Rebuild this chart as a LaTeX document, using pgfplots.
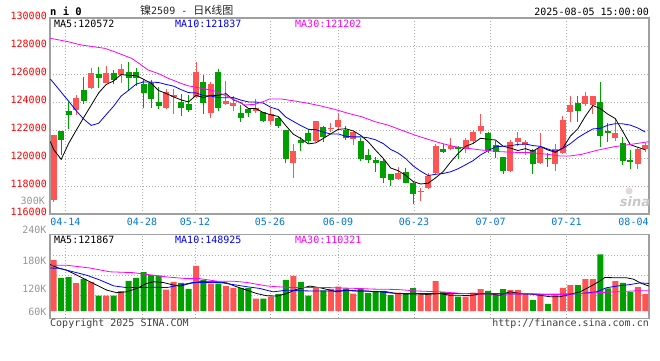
\documentclass[border=0pt]{standalone}
\usepackage{pgfplots}
\pgfplotsset{compat=1.18}
\usepackage{pgfplotstable}
\usepackage{fontspec}
\setmainfont{DejaVu Sans}
\setmonofont{DejaVu Sans Mono}
\newfontfamily\cjk{Noto Sans CJK SC}
\definecolor{cred}{RGB}{255,84,84}
\definecolor{cgreen}{RGB}{0,160,0}
\definecolor{cblue}{RGB}{0,0,255}
\definecolor{cmag}{RGB}{255,0,255}
\definecolor{cdate}{RGB}{0,120,215}
\definecolor{cgrid}{RGB}{175,175,175}
\definecolor{cframe}{RGB}{160,160,160}
\definecolor{cvol}{RGB}{150,150,150}

% red (up) candles: index, open, high, low, close, volume(K)
\pgfplotstableread{
i O H L C V
0 116970 121650 116850 121650 180
3 123410 124510 123080 124290 125.5
5 125030 126430 124950 126050 128.6
7 125390 126580 125340 126080 96
9 125930 126700 125340 126360 106.8
15 123560 124940 123510 124700 110
16 124410 124940 123130 124510 128.6
19 124360 126890 124300 126120 166
21 123240 125450 122830 125290 124
23 123880 125500 123790 124070 118.5
24 123710 124430 123380 123900 114.5
27 123380 124210 123190 123550 88.8
29 122640 123550 122360 123120 93.5
32 119620 121000 118590 120520 142.6
35 121210 122650 121170 122640 113.8
37 122070 122480 121880 122170 112
38 122240 123240 122000 122710 117
40 121330 121880 120930 121880 101
46 118500 119330 118430 118950 103
49 117550 117880 116950 117670 99
50 117830 118900 117760 118710 100
51 118950 121000 118830 120860 130
53 120640 121400 120570 120860 101
55 120640 121450 120330 121290 93.5
56 121210 122000 120980 121880 103
57 121930 123140 121710 122310 111.4
61 119100 121290 118980 121170 109
62 121170 121880 120880 121450 109
63 120930 121290 120210 121170 100
65 119620 121810 119570 120740 100
67 119550 121000 119100 120620 100
68 120330 123020 120260 122710 114.5
69 123310 124430 122600 123790 120.8
71 123830 124740 123740 124430 134.8
72 123790 124430 123120 124430 134.8
75 121450 122760 121240 121810 130
78 119550 120690 119190 120640 116
79 120620 121050 120450 120930 100
}\up

% green (down) candles
\pgfplotstableread{
i O H L C V
1 121940 121940 120200 121320 138
2 123370 123980 122080 123100 139.5
4 124860 125770 123840 124080 135.6
6 125980 126530 125030 125740 96
8 126050 126290 125290 125580 96
10 126120 126890 124790 125740 131
11 126120 126410 125170 125740 138
12 125290 125580 123560 124670 151
13 125340 125580 123560 124200 144
14 123980 125100 123510 123750 143
17 123980 124560 123030 123600 126
18 123890 124510 123270 123460 112
20 125450 125930 123140 123900 133
22 126170 126360 123380 123600 124
25 123210 123790 122600 122880 113.8
26 123500 123550 122950 123240 113.8
28 123290 123290 122600 122640 88.8
30 122880 122950 122170 122290 99.7
31 122000 122000 119620 119930 133
33 121290 121480 120500 121100 128.6
34 121810 122050 121050 121210 96
36 122240 122310 121120 121520 108.3
39 122000 122290 121290 121400 113
41 121240 121400 119790 119930 113
42 120210 120640 119670 119860 102
43 119860 120100 119020 119670 107
44 119790 119980 118190 118550 107
45 118860 118860 118020 118430 97.4
47 119020 119260 118190 118240 100
48 118240 118310 116690 117430 113.8
52 120620 121000 120330 120450 105
54 120790 120860 119930 120710 93.5
58 121810 121880 120330 120500 107
59 120930 121210 119980 120450 99
60 120100 120100 118830 119100 111.4
64 120570 120640 118860 119550 85.7
66 120020 120330 119380 119950 77
70 123950 124450 122600 123380 120.8
73 124000 125400 120810 121600 193
74 121950 122520 121170 121810 113
76 121100 121480 119500 119810 126
77 119860 120570 119210 119740 105
}\dn

\pgfplotstableread{
i m
-0.45 121170
0 120600
1 119900
2 121050
3 121980
4 122888
5 123768
6 124652
7 125248
8 125506
9 125962
10 125900
11 125900
12 125618
13 125342
14 124820
15 124612
16 124366
17 124152
18 124004
19 124478
20 124318
21 124474
22 124474
23 124596
24 124152
25 123948
26 123538
27 123528
28 123242
29 123086
30 122968
31 122306
32 121700
33 121392
34 121010
35 121080
36 121398
37 121728
38 122050
39 122088
40 121936
41 121618
42 121156
43 120548
44 119978
45 119288
46 119092
47 118768
48 118320
49 118144
50 118200
51 118582
52 119024
53 119710
54 120318
55 120834
56 121038
57 121410
58 121338
59 121286
60 120848
61 120706
62 120534
63 120668
64 120488
65 120816
66 120572
67 120406
68 120714
69 121562
70 122090
71 122986
72 123748
73 123526
74 123130
75 122816
76 121892
77 120954
78 120762
79 120586
}\mafive

\pgfplotstableread{
i m
-0.45 125640
0 125350
1 124700
2 124050
3 123380
4 122780
5 122330
6 122480
7 123100
8 123700
9 124425
10 124834
11 125276
12 125433
13 125424
14 125391
15 125256
16 125133
17 124885
18 124673
19 124649
20 124465
21 124420
22 124313
23 124300
24 124315
25 124133
26 124006
27 124001
28 123919
29 123619
30 123458
31 122922
32 122614
33 122317
34 122048
35 122024
36 121852
37 121714
38 121721
39 121549
40 121508
41 121508
42 121442
43 121299
44 121033
45 120612
46 120355
47 119962
48 119434
49 119061
50 118744
51 118837
52 118896
53 119015
54 119231
55 119517
56 119810
57 120217
58 120524
59 120802
60 120841
61 120872
62 120972
63 121003
64 120887
65 120832
66 120639
67 120470
68 120691
69 121025
70 121453
71 121779
72 122077
73 122120
74 122346
75 122453
76 122439
77 122351
78 122144
79 121858
}\maten

\pgfplotstableread{
i m
-0.45 128550
1.9 128310
3.7 128070
5.9 127905
6.8 127833
8.1 127595
10.4 127119
11.7 126643
12.6 126285
13.9 126047
15.3 125690
17.0 125333
17.9 125166
19.3 125023
21.5 124785
23.3 124380
24.6 124023
25.5 123785
26.8 123833
28.2 124071
28.8 124214
30.4 124214
32.2 124071
34.0 123904
35.7 123714
37.5 123476
39.5 123166
41.1 122952
42.9 122595
44.6 122357
46.4 122000
48.2 121642
50.0 121333
51.8 121047
53.6 120809
55.3 120690
57.1 120571
59.6 120452
61.6 120404
63.8 120380
66.0 120261
67.6 120142
68.9 120142
70.5 120261
72.7 120571
74.9 120809
77.1 120976
79.5 121166
}\mathirty

\pgfplotstableread{
i v
-0.5 169
0.6 161
1.7 156
3.1 144
4.4 132.5
5.7 121
7.1 109
8.4 103
9.7 105
11.1 113
12.4 124.7
13.3 128.6
14.6 127
16.0 121
16.9 118.5
18.2 124.7
19.5 128.6
21.8 128.6
23.1 126
24.4 117
25.8 109
27.1 101
28.4 96
29.8 95
31.1 101
32.4 110.6
34.2 118.5
35.6 114.5
36.9 109
37.8 105
39.1 109
40.5 107
41.8 107
43.1 105
44.5 105
45.8 101
47.1 100
48.5 100
49.8 99
51.6 101
52.9 97
54.3 97
55.6 96
56.9 100
58.3 100
59.6 97
60.9 105
62.3 101
63.6 100
64.9 97
66.3 93.5
67.6 93.5
68.9 99
70.3 105
71.6 117
72.9 130
73.6 138.7
75.2 138
76.5 138
77.4 134.8
78.5 124.7
79.5 118.5
}\vfive

\pgfplotstableread{
i v
-0.5 161
0.8 160
2.6 152
4.4 144
6.2 132.5
8.0 119
9.7 115
11.5 115
13.3 116
15.1 115
16.9 121
18.6 127
20.4 127
22.2 127
24.0 122
25.8 117
27.5 113
29.3 105
31.1 109
32.9 107.5
34.7 107
36.7 107
39.1 107.5
41.3 107
43.6 105
45.8 101
48.0 101
50.3 101
52.5 101
54.7 101
56.9 101
59.2 101
61.4 100
63.6 100
65.8 99
68.1 99
70.3 101
72.5 105
73.8 114.5
75.2 118.5
76.9 122
78.3 126
79.5 124.7
}\vten

\pgfplotstableread{
i v
-0.5 167.5
1.7 167.5
4.8 161
7.5 152
10.6 150
12.4 146
15.1 140
17.8 136
19.5 136
21.8 130
24.0 130
25.8 127
28.4 119
29.8 117
32.0 115
36.7 115
40.5 113
42.7 111.4
45.8 110.6
48.5 107
51.6 105
54.7 101
57.4 100
60.5 100
63.6 100.5
65.8 99
68.1 99
70.3 101
72.5 103
75.2 105
77.8 107.5
79.5 107.5
}\vthirty

\pgfplotsset{
  chartbase/.style={
    scale only axis, width=599pt,
    xmin=-0.5, xmax=79.5,
    axis line style={draw=cframe, line width=1.2pt},
    xtick={1.54,11.78,18.9,28.9,37.95,48.1,58.3,68.5}, xticklabels={},
    major tick length=0pt,
    scaled y ticks=false,
    grid=major,
    major grid style={draw=cgrid, line width=0.7pt, dash pattern=on 1pt off 2pt},
  },
  wick/.style={draw=none, mark=none, forget plot,
    error bars/.cd, y dir=both, y explicit, error mark=none,
    error bar style={draw=#1, line width=1pt, solid}},
  body/.style={draw=none, mark=none, forget plot,
    error bars/.cd, y dir=both, y explicit, error mark=none,
    error bar style={draw=#1, line width=6pt, solid}},
}

\begin{document}
\begin{tikzpicture}[font=\ttfamily\fontsize{10}{12}\selectfont]
\useasboundingbox (0,0) rectangle (660pt,360pt);

% ---------- price panel ----------
\begin{axis}[chartbase,
  at={(50pt,146pt)}, anchor=south west, height=196pt,
  ymin=116000, ymax=130000,
  ytick={116000,118000,120000,122000,124000,126000,128000,130000},
  yticklabels={116000,118000,120000,122000,124000,126000,128000,130000},
  yticklabel style={text=red, anchor=east, inner sep=0pt, xshift=-3pt, yshift=2pt,
    font=\ttfamily\fontsize{10}{12}\selectfont},
]
\addplot[wick=cred] table[x=i, y expr={(\thisrow{H}+\thisrow{L})/2}, y error expr={(\thisrow{H}-\thisrow{L})/2}] {\up};
\addplot[wick=cgreen] table[x=i, y expr={(\thisrow{H}+\thisrow{L})/2}, y error expr={(\thisrow{H}-\thisrow{L})/2}] {\dn};
\addplot[body=cred] table[x=i, y expr={(\thisrow{O}+\thisrow{C})/2}, y error expr={abs(\thisrow{C}-\thisrow{O})/2}] {\up};
\addplot[body=cgreen] table[x=i, y expr={(\thisrow{O}+\thisrow{C})/2}, y error expr={abs(\thisrow{C}-\thisrow{O})/2}] {\dn};
\addplot[black, line width=0.8pt, mark=none] table[x=i, y=m] {\mafive};
\addplot[cblue, line width=0.8pt, mark=none] table[x=i, y=m] {\maten};
\addplot[cmag, line width=0.8pt, mark=none] table[x=i, y=m] {\mathirty};
\end{axis}

% ---------- volume panel ----------
\begin{axis}[chartbase,
  at={(50pt,41.7pt)}, anchor=south west, height=84pt,
  ymin=-17.1, ymax=180,
  ytick={35.9,82.8,129.8}, yticklabels={},
]
\addplot[ybar, bar width=6pt, fill=cred, draw=none] table[x=i, y expr=\thisrow{V}-60] {\up};
\addplot[ybar, bar width=6pt, fill=cgreen, draw=none] table[x=i, y expr=\thisrow{V}-60] {\dn};
\addplot[black, line width=0.8pt, mark=none] table[x=i, y expr=\thisrow{v}-60] {\vfive};
\addplot[cblue, line width=0.8pt, mark=none] table[x=i, y expr=\thisrow{v}-60] {\vten};
\addplot[cmag, line width=0.8pt, mark=none] table[x=i, y expr=\thisrow{v}-60] {\vthirty};
\end{axis}

% ---------- texts ----------
\node[anchor=base west, inner sep=0pt, font=\ttfamily\bfseries\fontsize{10.5}{12}\selectfont] at (50pt,345pt) {n i 0};
\node[anchor=base west, inner sep=0pt, text=black!85] at (140pt,345.5pt)
  {{\cjk\fontsize{11}{12}\selectfont 镍}2509 - {\cjk\fontsize{11}{12}\selectfont 日K线图}};
\node[anchor=base east, inner sep=0pt] at (649pt,344.3pt) {2025-08-05 15:00:00};

\node[anchor=base west, inner sep=0pt, text=black] at (54pt,332.7pt) {MA5:120572};
\node[anchor=base west, inner sep=0pt, text=cblue] at (175pt,332.7pt) {MA10:121837};
\node[anchor=base west, inner sep=0pt, text=cmag] at (295pt,332.7pt) {MA30:121202};

\node[anchor=base east, inner sep=0pt, text=cvol] at (45pt,156pt) {300K};

\foreach \xx/\lab in {65.3/04-14, 142/04-28, 195/05-12, 270/05-26, 338/06-09, 414/06-23, 490.7/07-07, 566.5/07-21, 633.5/08-04}
  \node[anchor=base, inner sep=0pt, text=cdate] at (\xx pt,135pt) {\lab};

\node[anchor=base east, inner sep=0pt, text=cvol] at (46.7pt,126.7pt) {240K};
\node[anchor=base east, inner sep=0pt, text=cvol] at (46.7pt,96pt) {180K};
\node[anchor=base east, inner sep=0pt, text=cvol] at (46.7pt,67.3pt) {120K};
\node[anchor=base east, inner sep=0pt, text=cvol] at (46.7pt,45pt) {60K};

\node[anchor=base west, inner sep=0pt, text=black] at (54pt,116.7pt) {MA5:121867};
\node[anchor=base west, inner sep=0pt, text=cblue] at (175pt,116.7pt) {MA10:148925};
\node[anchor=base west, inner sep=0pt, text=cmag] at (295pt,116.7pt) {MA30:110321};

\node[anchor=base west, inner sep=0pt, text=black!75] at (50pt,33.3pt) {Copyright 2025 SINA.COM};
\node[anchor=base east, inner sep=0pt, text=black!75] at (649pt,33.3pt) {http://finance.sina.com.cn};

% sina watermark
\fill[red!25!black!15] (629pt,169pt) circle (3.5pt);
\node[anchor=base, inner sep=0pt, text=black!22, font=\normalfont\bfseries\itshape\fontsize{13}{13}\selectfont] at (635pt,154pt) {sina};
\end{tikzpicture}
\end{document}
